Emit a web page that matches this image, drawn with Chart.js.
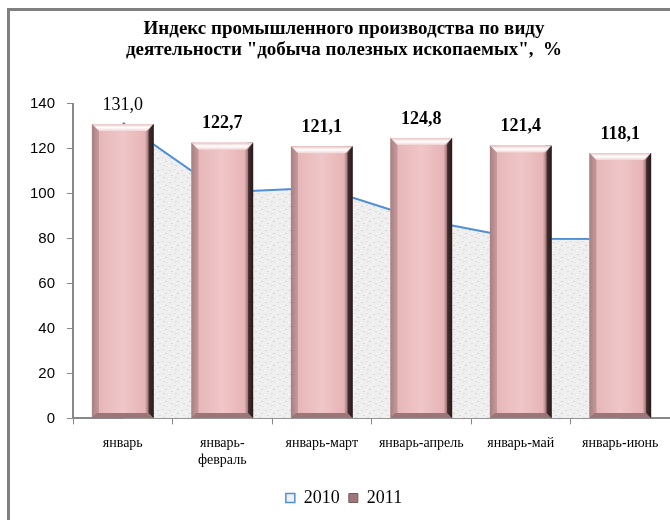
<!DOCTYPE html>
<html>
<head>
<meta charset="utf-8">
<script src="https://cdn.jsdelivr.net/npm/chart.js@4"></script>
<style>
  body { margin: 0; background: #fff; }
  #wrap { position: relative; width: 670px; height: 520px; }
  #frameTop { position: absolute; left: 7px; top: 8px; width: 663px; height: 3px; background: #808080; }
  #frameLeft { position: absolute; left: 7px; top: 8px; width: 3px; height: 512px; background: #808080; }
</style>
</head>
<body>
<div id="wrap">
  <canvas id="miningChart" width="670" height="520"></canvas>
  <div id="frameTop"></div>
  <div id="frameLeft"></div>
</div>
<script>
// chart data
const categories = ['январь', ['январь-', 'февраль'], 'январь-март', 'январь-апрель', 'январь-май', 'январь-июнь'];
const values2010 = [131.5, 100.6, 102.6, 88.5, 80.0, 79.8];
const values2011 = [131.0, 122.7, 121.1, 124.8, 121.4, 118.1];
const yTicks = [0, 20, 40, 60, 80, 100, 120, 140];

const serif = "'Liberation Serif', 'Times New Roman', serif";

// speckled light grey texture for the 2010 area
function makeSpeckle() {
    const c = document.createElement('canvas');
    c.width = 12; c.height = 12;
    const g = c.getContext('2d');
    g.fillStyle = '#efefef';
    g.fillRect(0, 0, 12, 12);
    const dots = [[1, 2, '#d6d6d6'], [6, 1, '#e0e0e0'], [9, 5, '#d2d2d2'], [3, 7, '#dcdcdc'], [7, 9, '#d8d8d8'], [10, 10, '#e2e2e2'], [0, 10, '#f8f8f8'], [5, 5, '#fafafa']];
    dots.forEach(function (d) { g.fillStyle = d[2]; g.fillRect(d[0], d[1], 2, 1); });
    return g.createPattern(c, 'repeat');
}

// bevelled pink bars, drawn over the plain ones
const bevelBars = {
    id: 'bevelBars',
    afterDatasetDraw(chart, args) {
        if (args.meta.type !== 'bar') return;
        const ctx = chart.ctx;
        args.meta.data.forEach(function (bar) {
            const p = bar.getProps(['x', 'y', 'base', 'width'], true);
            const l = p.x - p.width / 2, r = p.x + p.width / 2, t = p.y, b = p.base;
            const d = 7;
            ctx.save();
            const g = ctx.createLinearGradient(l, 0, r, 0);
            g.addColorStop(0, '#b48e90');
            g.addColorStop(0.09, '#e6b6b8');
            g.addColorStop(0.5, '#f0c6c8');
            g.addColorStop(0.86, '#e6b4b6');
            g.addColorStop(0.93, '#8a6365');
            g.addColorStop(1, '#2a1c1c');
            ctx.fillStyle = g;
            ctx.fillRect(l, t, r - l, b - t);

            // top bevel
            const gt = ctx.createLinearGradient(0, t, 0, t + d);
            gt.addColorStop(0, '#e7c3c4');
            gt.addColorStop(0.5, '#ffffff');
            gt.addColorStop(1, '#f3d3d4');
            ctx.fillStyle = gt;
            ctx.beginPath();
            ctx.moveTo(l, t); ctx.lineTo(r, t); ctx.lineTo(r - d, t + d); ctx.lineTo(l + d, t + d);
            ctx.closePath(); ctx.fill();

            // bottom bevel
            ctx.fillStyle = '#9a7678';
            ctx.beginPath();
            ctx.moveTo(l, b); ctx.lineTo(r, b); ctx.lineTo(r - 5, b - 5); ctx.lineTo(l + 5, b - 5);
            ctx.closePath(); ctx.fill();

            // left bevel
            ctx.fillStyle = 'rgba(150,110,112,0.45)';
            ctx.beginPath();
            ctx.moveTo(l, t); ctx.lineTo(l + d, t + d); ctx.lineTo(l + d, b - 5); ctx.lineTo(l, b);
            ctx.closePath(); ctx.fill();

            // right bevel
            ctx.fillStyle = 'rgba(40,25,25,0.75)';
            ctx.beginPath();
            ctx.moveTo(r, t); ctx.lineTo(r - d + 2, t + d); ctx.lineTo(r - d + 2, b - 5); ctx.lineTo(r, b);
            ctx.closePath(); ctx.fill();
            ctx.restore();
        });
    }
};

// value labels above the bars
const barLabels = {
    id: 'barLabels',
    afterDatasetsDraw(chart) {
        const ctx = chart.ctx;
        chart.data.datasets.forEach(function (ds, i) {
            const meta = chart.getDatasetMeta(i);
            if (meta.type !== 'bar') return;
            meta.data.forEach(function (bar, j) {
                ctx.save();
                ctx.font = (j === 0 ? 'normal' : 'bold') + ' 18px ' + serif;
                ctx.fillStyle = '#000';
                ctx.textAlign = 'center';
                ctx.textBaseline = 'middle';
                ctx.fillText(ds.data[j].toFixed(1).replace('.', ','), bar.x, bar.y - 19);
                ctx.restore();
            });
        });
    }
};

const ctx = document.getElementById('miningChart').getContext('2d');
const chart = new Chart(ctx, {
    type: 'bar',
    data: {
        labels: categories,
        datasets: [
            {
                type: 'line',
                label: '2010',
                data: values2010,
                fill: 'origin',
                backgroundColor: makeSpeckle(),
                borderColor: '#4f8fd6',
                borderWidth: 2,
                pointRadius: 0,
                tension: 0,
                order: 2
            },
            {
                label: '2011',
                data: values2011,
                backgroundColor: '#ecbcbe',
                borderWidth: 0,
                barPercentage: 0.62,
                categoryPercentage: 1,
                order: 1
            }
        ]
    },
    options: {
        responsive: false,
        animation: false,
        layout: { padding: { left: 18, right: 0, top: 19, bottom: 3 } },
        plugins: {
            title: {
                display: true,
                text: ['Индекс промышленного производства по виду', 'деятельности "добыча полезных ископаемых",  %'],
                color: '#000',
                font: { family: serif, size: 19, weight: 'bold', lineHeight: 1.1 },
                padding: { top: 0, bottom: 43 }
            },
            legend: {
                position: 'bottom',
                labels: {
                    color: '#000',
                    font: { family: serif, size: 18 },
                    boxWidth: 9,
                    boxHeight: 9,
                    padding: 9,
                    generateLabels: function () {
                        return [
                            { text: '2010', fillStyle: '#eef2f8', strokeStyle: '#4f8fd6', lineWidth: 1.5, datasetIndex: 0 },
                            { text: '2011', fillStyle: '#9c7678', strokeStyle: '#7a5a5c', lineWidth: 1, datasetIndex: 1 }
                        ];
                    }
                }
            },
            tooltip: { enabled: false }
        },
        scales: {
            x: {
                grid: { drawOnChartArea: false, drawTicks: true, tickLength: 6, color: '#888' },
                border: { color: '#888', width: 2 },
                ticks: { color: '#000', font: { family: serif, size: 14 }, maxRotation: 0, autoSkip: false, padding: 11 }
            },
            y: {
                min: 0,
                max: 140,
                afterBuildTicks: function (axis) { axis.ticks = yTicks.map(function (v) { return { value: v }; }); },
                grid: { drawOnChartArea: false, drawTicks: true, tickLength: 6, color: '#888' },
                border: { color: '#888', width: 2 },
                ticks: { color: '#000', font: { family: "'Liberation Sans', Arial, sans-serif", size: 15 }, padding: 12 }
            }
        }
    },
    plugins: [bevelBars, barLabels]
});
</script>
</body>
</html>
